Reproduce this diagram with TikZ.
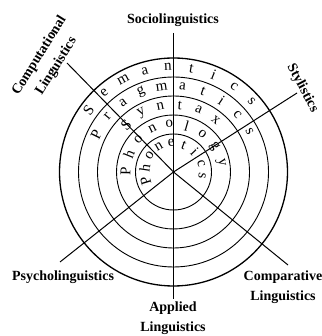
\documentclass[tikz,border=0pt]{standalone}
\usepackage{fontspec}
\setmainfont{Liberation Serif}
\usetikzlibrary{positioning}

\begin{document}
\begin{tikzpicture}[x=1pt, y=1pt,
    field/.style={font=\bfseries\fontsize{14}{20}\selectfont, align=center, inner sep=0pt},
    letter/.style={font=\fontsize{15}{15}\selectfont, inner sep=0pt},
    ring/.style={draw, line width=0.9pt},
    spoke/.style={line width=1pt}
]
\useasboundingbox (0,0) rectangle (321,336);

% Centre of the wheel
\coordinate (o) at (173.5,164);

% Rings
\draw[ring, line width=1.3pt] (o) circle (114);
\draw[ring] (o) circle (95);
\draw[ring] (o) circle (76);
\draw[ring] (o) circle (57);
\draw[ring] (o) circle (38);

% Free ends of the spokes
\coordinate (top) at (173.5,303);
\coordinate (bottom) at (173.5,37);
\coordinate (upleft) at (67,273);
\coordinate (upright) at (297,243);
\coordinate (downleft) at (60,74);
\coordinate (downright) at (288,71);

% Spokes
\draw[spoke] (top) -- (bottom);
\draw[spoke] (o) -- (upleft);
\draw[spoke] (o) -- (upright);
\draw[spoke] (o) -- (downleft);
\draw[spoke] (o) -- (downright);

% Outer fields
\node[field] (socio) at (173,316) {Sociolinguistics};
\node[field, rotate=58] (comput) at (48,275) {Computational\\Linguistics};
\node[field, rotate=-62] (styl) at (302.5,248) {Stylistics};
\node[field] (psycho) at (63,59) {Psycholinguistics};
\node[field] (applied) at (173,18) {Applied\\Linguistics};
\node[field] (compar) at (283,48.5) {Comparative\\Linguistics};

% Core levels, letter by letter along the rings
\foreach \ch [count=\i from 0] in {S,e,m,a,n,t,i,c,s}
  \node[letter, rotate={54-12.75*\i}] (sem\i) at ([shift={({144-12.75*\i}:105)}]o) {\ch};
\foreach \ch [count=\i from 0] in {P,r,a,g,m,a,t,i,c,s}
  \node[letter, rotate={64-14*\i}] (prag\i) at ([shift={({154-14*\i}:86)}]o) {\ch};
\foreach \ch [count=\i from 0] in {S,y,n,t,a,x}
  \node[letter, rotate={45-16.8*\i}] (syn\i) at ([shift={({135-16.8*\i}:67)}]o) {\ch};
\foreach \ch [count=\i from 0] in {P,h,o,n,o,l,o,g,y}
  \node[letter, rotate={89-21*\i}] (phonol\i) at ([shift={({179-21*\i}:48)}]o) {\ch};
\foreach \ch [count=\i from 0] in {P,h,o,n,e,t,i,c,s}
  \node[letter, rotate={107-25.6*\i}] (phonet\i) at ([shift={({197-25.6*\i}:29)}]o) {\ch};

\end{tikzpicture}
\end{document}
